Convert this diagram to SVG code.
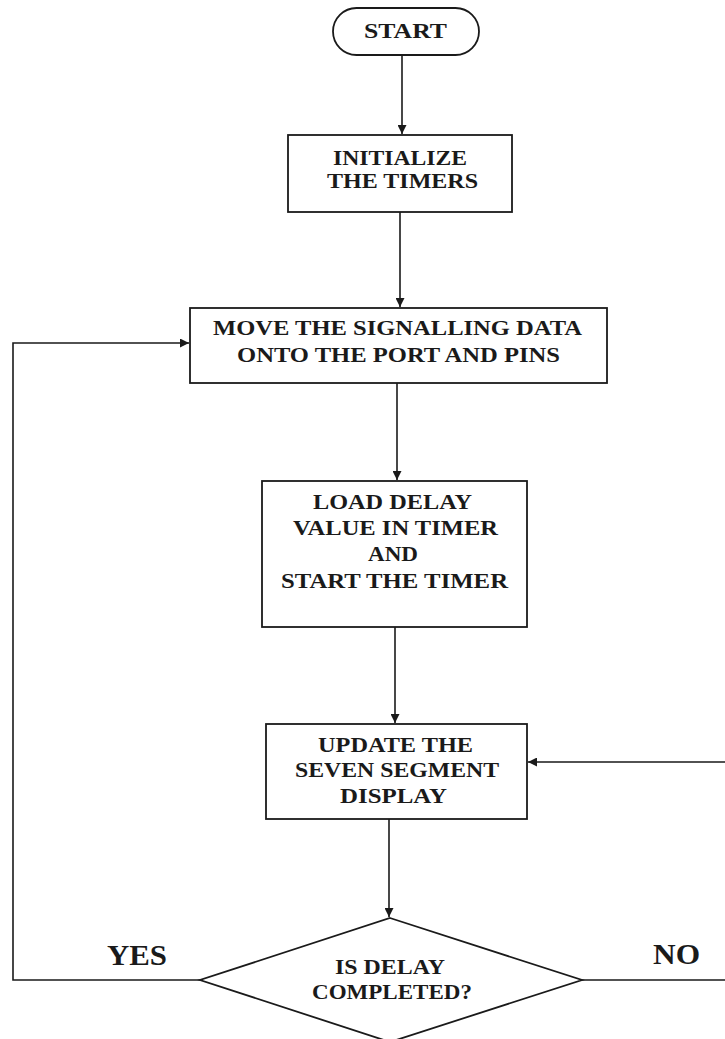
<svg xmlns="http://www.w3.org/2000/svg" width="725" height="1039" viewBox="0 0 725 1039">
<style>
.box{fill:#fff;stroke:#1a1a1a;stroke-width:1.8}
.ln{fill:none;stroke:#1a1a1a;stroke-width:1.6}
.t{font-family:"Liberation Serif","Times New Roman",serif;font-weight:bold;font-size:22px;fill:#1a1a1a;text-anchor:start}
.big{font-size:30px}
</style>
<defs>
<marker id="ah" viewBox="0 0 10 10" refX="10" refY="5" markerWidth="9" markerHeight="9" markerUnits="userSpaceOnUse" orient="auto">
<path d="M0,0 L10,5 L0,10 z" fill="#1a1a1a"/>
</marker>
</defs>
<rect width="725" height="1039" fill="#fff"/>
<g id="connectors">
<line class="ln" x1="402" y1="55" x2="402" y2="134" marker-end="url(#ah)"/>
<line class="ln" x1="400" y1="212" x2="400" y2="307" marker-end="url(#ah)"/>
<line class="ln" x1="397" y1="383" x2="397" y2="480" marker-end="url(#ah)"/>
<line class="ln" x1="395" y1="627" x2="395" y2="723" marker-end="url(#ah)"/>
<line class="ln" x1="389" y1="819" x2="389" y2="917" marker-end="url(#ah)"/>
<polyline class="ln" points="200,980 13,980 13,343 189,343" marker-end="url(#ah)"/>
<polyline class="ln" points="582,980 727,980 727,762 528,762" marker-end="url(#ah)"/>
</g>
<g id="start">
<rect class="box" x="333" y="8" width="146" height="47" rx="23.5" ry="23.5"/>
<text class="t" x="364" y="38" style="font-size:20px" textLength="83" lengthAdjust="spacingAndGlyphs">START</text>
</g>
<g id="init">
<rect class="box" x="288" y="135" width="224" height="77"/>
<text class="t" x="333" y="165" textLength="134" lengthAdjust="spacingAndGlyphs">INITIALIZE</text>
<text class="t" x="327" y="188" textLength="151" lengthAdjust="spacingAndGlyphs">THE TIMERS</text>
</g>
<g id="move">
<rect class="box" x="190" y="308" width="417" height="75"/>
<text class="t" x="213" y="335" textLength="369" lengthAdjust="spacingAndGlyphs">MOVE THE SIGNALLING DATA</text>
<text class="t" x="237" y="362" textLength="323" lengthAdjust="spacingAndGlyphs">ONTO THE PORT AND PINS</text>
</g>
<g id="load">
<rect class="box" x="262" y="481" width="265" height="146"/>
<text class="t" x="313" y="509" textLength="159" lengthAdjust="spacingAndGlyphs">LOAD DELAY</text>
<text class="t" x="293" y="535" textLength="205" lengthAdjust="spacingAndGlyphs">VALUE IN TIMER</text>
<text class="t" x="368" y="561" textLength="50" lengthAdjust="spacingAndGlyphs">AND</text>
<text class="t" x="281" y="588" textLength="227" lengthAdjust="spacingAndGlyphs">START THE TIMER</text>
</g>
<g id="update">
<rect class="box" x="266" y="724" width="261" height="95"/>
<text class="t" x="318" y="752" textLength="155" lengthAdjust="spacingAndGlyphs">UPDATE THE</text>
<text class="t" x="295" y="777" textLength="204" lengthAdjust="spacingAndGlyphs">SEVEN SEGMENT</text>
<text class="t" x="340" y="803" textLength="107" lengthAdjust="spacingAndGlyphs">DISPLAY</text>
</g>
<g id="decision">
<polygon class="box" points="390,918 582,980 390,1042 200,980"/>
<text class="t" x="335" y="974" textLength="110" lengthAdjust="spacingAndGlyphs">IS DELAY</text>
<text class="t" x="312" y="999" textLength="160" lengthAdjust="spacingAndGlyphs">COMPLETED?</text>
</g>
<g id="labels">
<text class="t big" x="107" y="965" textLength="60" lengthAdjust="spacingAndGlyphs">YES</text>
<text class="t big" x="653" y="964" textLength="47" lengthAdjust="spacingAndGlyphs">NO</text>
</g>
</svg>
